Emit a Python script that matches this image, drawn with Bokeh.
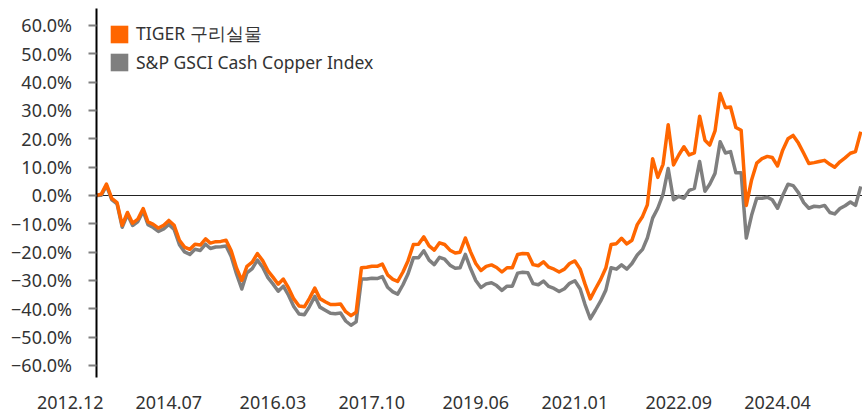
import math
import pandas as pd
from bokeh.plotting import figure
from bokeh.models import (Range1d, LinearAxis, DatetimeAxis, FixedTicker, DatetimeTickFormatter,
                          Legend, LegendItem, ColumnDataSource, Grid)
from bokeh.embed import file_html
from bokeh.resources import INLINE

# ---------------- data (monthly) ----------------
start_month = "2013-05-01"
n_months = 148

tiger = [0, 0.5, 4.0, -1, -2.5, -10.5, -6, -9.8, -8.3, -4.6,
         -9.3, -10.2, -11.5, -10.5, -8.8, -10.5, -15.8, -18.2, -19, -17.2,
         -17.5, -15.3, -16.8, -16.3, -16.2, -15.8, -19.5, -25.6, -30, -25,
         -23.5, -20.5, -23, -26.6, -28.8, -31.3, -29.5, -32.7, -36.5, -39,
         -39.3, -36.3, -32.7, -36.4, -37.5, -38.5, -38.5, -38.3, -41, -42.4,
         -41.2, -25.5, -25.3, -25, -25, -24.2, -28, -29.6, -30.3, -27,
         -23, -17.3, -17.2, -14.6, -17.8, -19.3, -16.7, -17.3, -19.3, -20.3,
         -20, -15, -19.8, -24, -26.5, -25, -24.5, -25.4, -27, -25.5,
         -25.5, -20.8, -20.5, -20.6, -24.4, -24.8, -23.4, -25.3, -26, -27,
         -26, -24, -23.1, -26, -31.2, -36.5, -33, -29.6, -25.6, -17.3,
         -17, -15.1, -17.1, -15.8, -10.3, -7.4, -3.3, 13, 6.4, 11,
         25, 10.8, 14.3, 17.2, 14.3, 15, 28, 19.5, 17.8, 22.8,
         36, 31, 31.2, 24, 23, -3.5, 5.5, 11.4, 13, 13.8,
         13.4, 10.4, 16, 20, 21.2, 18.5, 14.9, 11.3, 11.6, 12,
         12.4, 11, 10, 11.9, 13.3, 14.9, 15.5, 22.5]

gsci = [0, 0.1, 3.5, -1.5, -3.0, -11.2, -6.7, -10.6, -9.2, -5.5,
        -10.3, -11.3, -12.7, -11.8, -10.2, -12, -17.4, -19.9, -20.8, -19.0,
        -19.4, -17.2, -18.7, -18.2, -18.1, -17.8, -21.5, -27.7, -33, -27.3,
        -25.8, -22.8, -25.3, -29, -31.2, -33.8, -32, -35.3, -39.2, -41.8,
        -42.1, -39.2, -35.6, -39.4, -40.5, -41.6, -41.7, -41.5, -44.3, -45.8,
        -44.6, -29.5, -29.5, -29.2, -29.3, -28.6, -32.4, -34, -34.8, -31.5,
        -27.6, -22, -22, -19.5, -22.8, -24.4, -21.8, -22.5, -24.6, -25.7,
        -25.5, -20.8, -25.7, -30, -32.5, -31.2, -30.8, -31.8, -33.5, -32,
        -32, -27.4, -27.1, -27.3, -31.1, -31.5, -30.2, -32.1, -32.8, -33.9,
        -32.9, -31, -30.1, -33, -38.4, -43.5, -40.5, -37.2, -33.4, -25.5,
        -26, -24.5, -26, -24, -21, -19, -15, -8, -4.5, 0.5,
        9.5, -1.5, -0.3, -1, 1.8, 2.5, 12, 1.5, 4, 7.8,
        19, 15, 15.5, 8, 8, -15, -7, -1, -1, -0.6,
        -1.5, -4.5, 0, 4, 3.5, 1, -2.5, -4.5, -3.8, -4,
        -3.5, -6, -6.5, -4.6, -3.6, -2.3, -3.5, 3.2]

series_names = ["TIGER 구리실물", "S&P GSCI Cash Copper Index"]
series_colors = ["#FF6600", "#7F7F7F"]

x_tick_labels = ["2012.12", "2014.07", "2016.03", "2017.10",
                 "2019.06", "2021.01", "2022.09", "2024.04"]
y_ticks = [60, 50, 40, 30, 20, 10, 0, -10, -20, -30, -40, -50, -60]
y_tick_labels = ["60.0%", "50.0%", "40.0%", "30.0%", "20.0%", "10.0%", "0.0%",
                 "−10.0%", "−20.0%", "−30.0%", "−40.0%", "−50.0%", "−60.0%"]
y_axis_span = (-64.1, 66.0)

# ---------------- figure ----------------
dates = pd.date_range(start_month, periods=n_months, freq="MS")
src = ColumnDataSource(dict(date=dates, tiger=tiger, gsci=gsci))

def ms(ts):
    return pd.Timestamp(ts).value / 1e6

x_start = pd.Timestamp("2011-10-20")
x_end = pd.Timestamp("2025-08-11")

p = figure(width=862, height=415, x_axis_type="datetime",
           x_axis_location=None, y_axis_location=None,
           x_range=Range1d(start=x_start, end=x_end), y_range=Range1d(-77.65, 68.82),
           output_backend="svg", toolbar_location=None,
           min_border_left=0, min_border_right=0, min_border_top=0, min_border_bottom=0,
           outline_line_color=None, background_fill_color="white",
           border_fill_color="white")
for g in p.select(type=Grid):
    g.visible = False

FONT = "Noto Sans"
TXT = "#333333"

# date labels, placed just under the bottom of the value axis
xa = DatetimeAxis(ticker=FixedTicker(ticks=[ms(pd.to_datetime(l, format="%Y.%m")) for l in x_tick_labels]),
                  formatter=DatetimeTickFormatter(years="%Y.%m", months="%Y.%m", days="%Y.%m"),
                  fixed_location=y_axis_span[0],
                  axis_line_color=None, major_tick_line_color=None, minor_tick_line_color=None,
                  major_tick_out=0, major_tick_in=0, minor_tick_out=0, minor_tick_in=0,
                  major_label_standoff=19,
                  major_label_text_font=FONT, major_label_text_font_size="18px",
                  major_label_text_color=TXT)
p.add_layout(xa, "below")

# value axis drawn where the data starts
ya = LinearAxis(ticker=FixedTicker(ticks=y_ticks),
                major_label_overrides=dict(zip(y_ticks, y_tick_labels)),
                fixed_location=ms(dates[0]), bounds=y_axis_span,
                axis_line_color="black", axis_line_width=2,
                major_tick_out=8, major_tick_in=0,
                major_tick_line_color="#7F7F7F", major_tick_line_width=2,
                minor_tick_line_color=None,
                major_label_standoff=16,
                major_label_text_font=FONT, major_label_text_font_size="18px",
                major_label_text_color=TXT)
p.add_layout(ya, "left")

# horizontal axis line crossing at 0
za = LinearAxis(ticker=FixedTicker(ticks=[]), fixed_location=0,
                bounds=(ms(dates[0]), ms(x_end)),
                axis_line_color="#222222", axis_line_width=1,
                major_tick_line_color=None, minor_tick_line_color=None,
                major_label_text_font_size="0px", level="underlay")
p.add_layout(za, "below")

# series
p.line("date", "gsci", source=src, line_color=series_colors[1], line_width=3.5, line_join="round")
p.line("date", "tiger", source=src, line_color=series_colors[0], line_width=3.5, line_join="round")

# legend swatches (square patches, nothing drawn in the plot area)
nan = [math.nan]
q1 = p.quad(left=nan, right=nan, top=nan, bottom=nan, fill_color=series_colors[0], line_color=None)
q2 = p.quad(left=nan, right=nan, top=nan, bottom=nan, fill_color=series_colors[1], line_color=None)

legend = Legend(items=[LegendItem(label=series_names[0], renderers=[q1]),
                       LegendItem(label=series_names[1], renderers=[q2])],
                location=(108, 341), padding=0, margin=0, spacing=4,
                glyph_width=22, glyph_height=22, label_standoff=6,
                border_line_color=None, background_fill_alpha=0,
                label_text_font=FONT, label_text_font_size="17.5px",
                label_text_color=TXT)
p.add_layout(legend)

open("out.html", "w").write(file_html(p, INLINE))
